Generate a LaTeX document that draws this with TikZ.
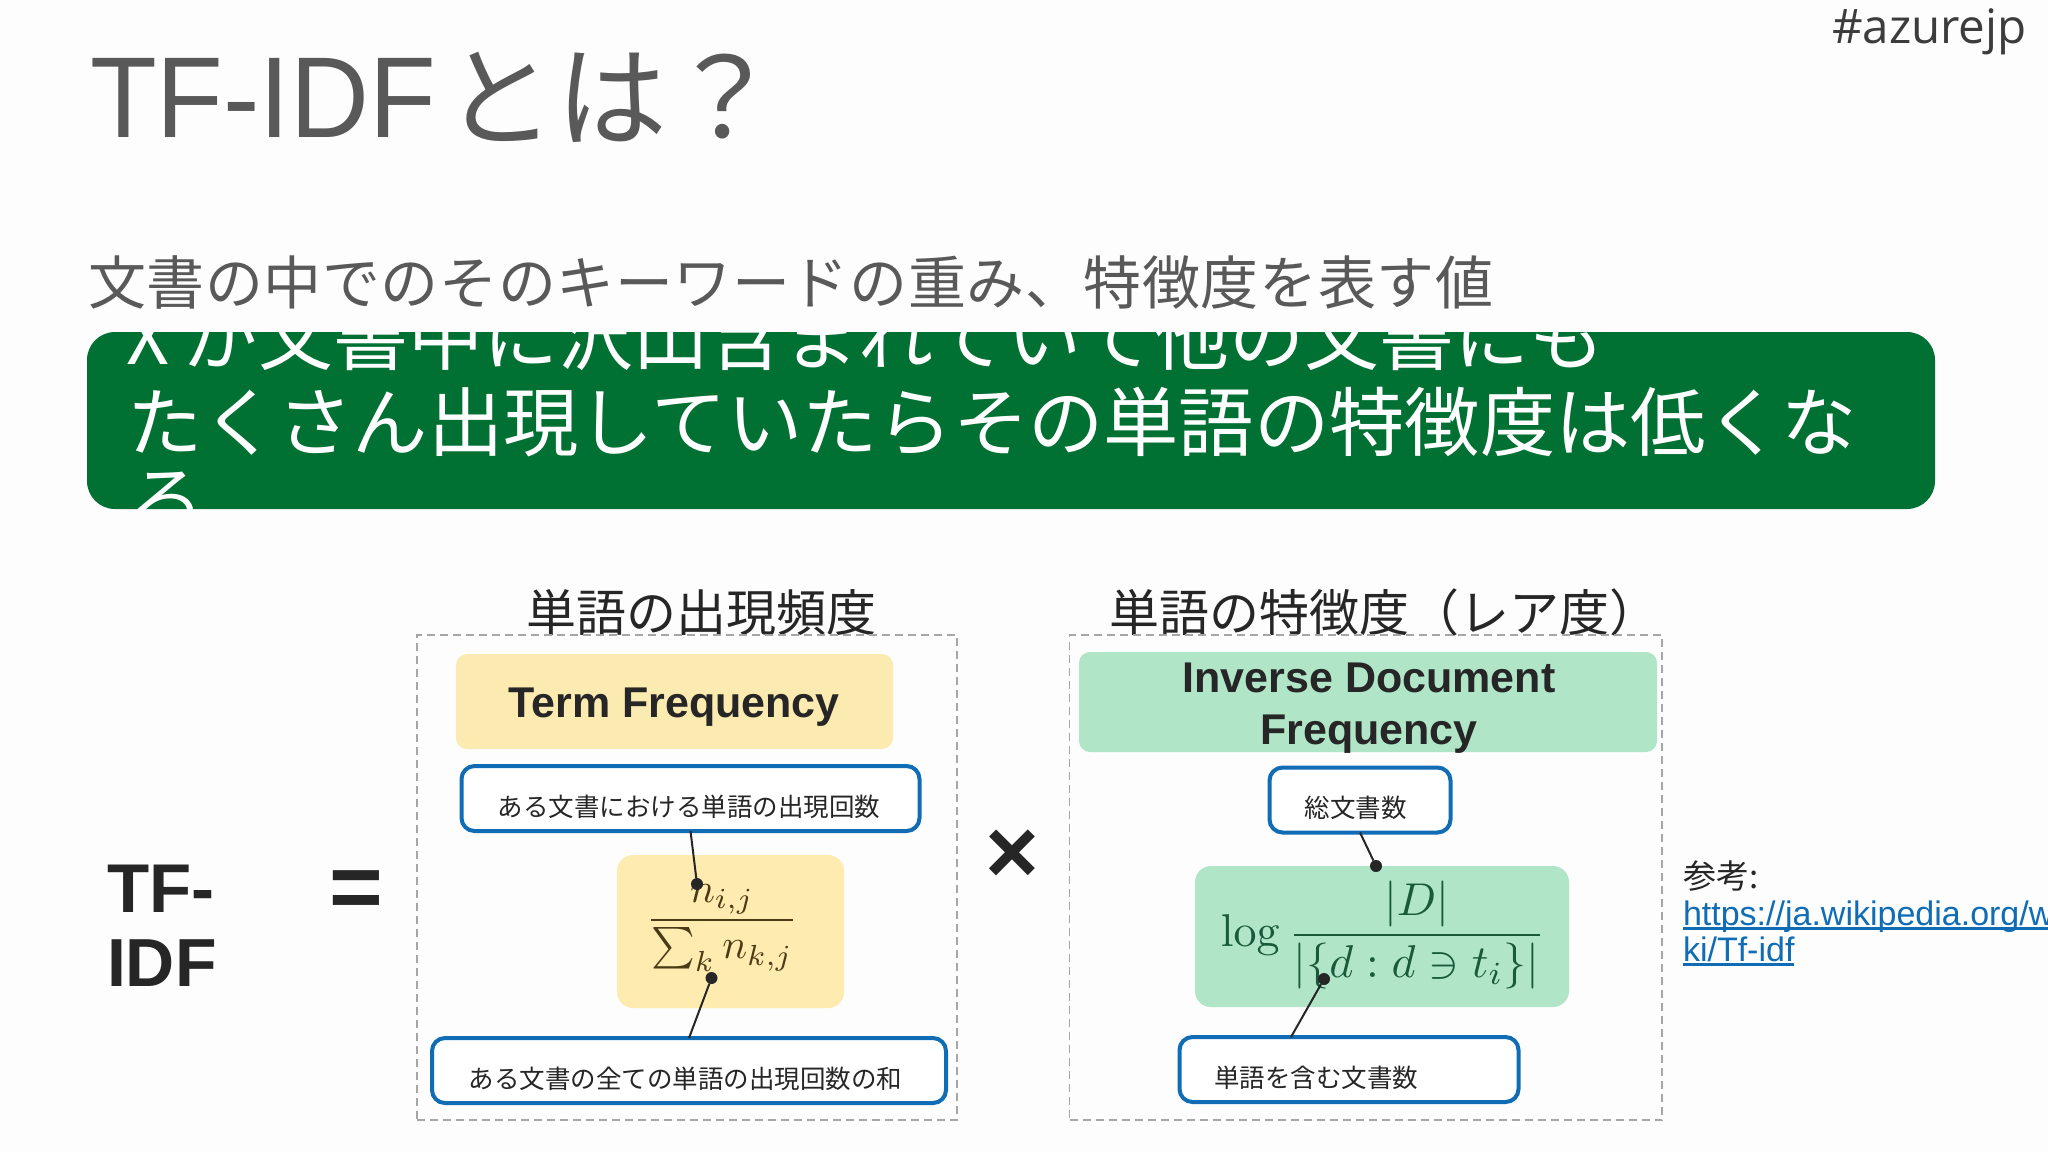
\documentclass[tikz,border=0pt]{standalone}
\usepackage[no-math]{fontspec}
\usepackage{amsmath}
\usetikzlibrary{calc}
\setmainfont{Liberation Sans}
\newfontfamily\jpf{Noto Sans CJK JP}
\newfontfamily\osf{Open Sans}
\definecolor{ttlgray}{HTML}{595959}
\definecolor{boxgreen}{HTML}{007033}
\definecolor{ink}{HTML}{262626}
\definecolor{hdryellow}{HTML}{FBEBB0}
\definecolor{fmlyellow}{HTML}{FDEBB0}
\definecolor{hdrgreen}{HTML}{B0E5C8}
\definecolor{callblue}{HTML}{0F6CB5}
\definecolor{dashgray}{HTML}{A6A6A6}
\definecolor{fmlbrown}{HTML}{4A3B14}
\definecolor{fmlgreen}{HTML}{1A5A3A}
\definecolor{pagebg}{HTML}{FDFDFE}
\newcommand{\jl}[2]{\jpf\addfontfeature{LetterSpace=#2}\fontsize{#1}{#1}\selectfont}
\newcommand{\sz}[1]{\fontsize{#1}{#1}\selectfont}
\newcommand{\lnk}[1]{\setbox0\hbox{#1}\rlap{\rule[-4.5pt]{\wd0}{2.5pt}}\box0}
\tikzset{
  txt/.style={inner sep=0pt,outer sep=0pt,anchor=base west},
  mid/.style={inner sep=0pt,outer sep=0pt,anchor=center},
  panel/.style={draw=dashgray,line width=1.3pt,dash pattern=on 8pt off 5pt,inner sep=0pt,outer sep=0pt},
  tile/.style={rounded corners=11pt,inner sep=0pt,outer sep=0pt},
  callout/.style={draw=callblue,fill=white,line width=4pt,rounded corners=13pt,inner sep=0pt,outer sep=0pt},
  leader/.style={draw=ink,line width=2pt},
  pin/.style={circle,fill=ink,minimum size=12pt,inner sep=0pt,outer sep=0pt},
}
\begin{document}
\begin{tikzpicture}[x=1pt,y=-1pt]
\useasboundingbox (0,0) rectangle (2048,1152);
\fill[pagebg] (0,0) rectangle (2048,1152);

% title
\node[txt,text=ttlgray,xscale=.95] (ttl) at (90,137) {\sz{115}TF-IDF};
\node[txt,text=ttlgray] (ttljp) at (444,138) {\jl{111}{1}とは？};
\node[txt,text=ink!90] (tag) at (1832,43) {\osf\sz{47.5}\#azurejp};
\node[txt,text=ttlgray] (sub) at (88,304) {\jl{58}{1}文書の中でのそのキーワードの重み、特徴度を表す値};

% banner
\node[fill=boxgreen,rounded corners=28pt,minimum width=1848pt,minimum height=177pt,inner sep=0pt,outer sep=0pt] (banner) at (1011,420.5) {};
\begin{scope}
\clip[rounded corners=28pt] (87,332) rectangle (1935,509);
\node[txt,text=white] (ln1) at (126,364) {\jl{75}{0}X\kern15pt が文書中に沢山含まれていて他の文書にも};
\node[txt,text=white] (ln2) at (127,450) {\jl{75.3}{0}たくさん出現していたらその単語の特徴度は低くな};
\node[txt,text=white] (ln3) at (129,528) {\jl{75}{0}る};
\end{scope}

% column titles
\begin{scope}
\clip (0,560) rectangle (2048,635);
\node[txt,text=ink] (lab1) at (526,631) {\jl{50}{0}単語の出現頻度};
\node[txt,text=ink] (lab2) at (1109,631) {\jl{50}{0}単語の特徴度（レア度）};
\end{scope}

% panels
\node[panel,minimum width=540pt,minimum height=485pt] (pa) at (687,877.5) {};
\node[panel,minimum width=592.5pt,minimum height=485pt] (pb) at (1365.75,877.5) {};

% headers
\node[tile,fill=hdryellow,minimum width=437pt,minimum height=95pt] (tfh) at (674.5,701.5) {};
\node[mid,text=ink] (tft) at (674,707) {\sz{43}\bfseries Term Frequency};
\node[tile,fill=hdrgreen,minimum width=578pt,minimum height=100pt] (idfh) at (1368,702) {};
\node[mid,text=ink] (idft1) at (1369,678) {\sz{43}\bfseries Inverse Document};
\node[mid,text=ink] (idft2) at (1369,734) {\sz{43}\bfseries Frequency};

% formula tiles
\node[tile,fill=fmlyellow,rounded corners=16pt,minimum width=227pt,minimum height=153pt] (tff) at (730.5,931.5) {};
\node[mid,text=fmlbrown] (tfm) at (722,928) {\scalebox{4.15}{$\displaystyle\frac{n_{i,j}}{\sum_k n_{k,j}}$}};
\node[tile,fill=hdrgreen,rounded corners=16pt,minimum width=374pt,minimum height=141pt] (idff) at (1382,936.5) {};
\node[mid,text=fmlgreen] (idfm) at (1383,935) {\scalebox{4.6}{$\displaystyle\log\frac{|D|}{|\{d:d\ni t_i\}|}$}};

% callouts
\node[callout,minimum width=458pt,minimum height=65pt] (c1) at (690.5,798.5) {};
\node[mid,text=ink] (c1t) at (689,807) {\jl{25.5}{0}ある文書における単語の出現回数};
\node[callout,minimum width=514pt,minimum height=65pt] (c2) at (689,1070.5) {};
\node[mid,text=ink] (c2t) at (685.5,1079) {\jl{25.5}{0}ある文書の全ての単語の出現回数の和};
\node[callout,minimum width=181pt,minimum height=65pt] (c3) at (1360,800) {};
\node[mid,text=ink] (c3t) at (1355.5,808) {\jl{25.5}{0}総文書数};
\node[callout,minimum width=339pt,minimum height=65pt] (c4) at (1349,1069.5) {};
\node[mid,text=ink] (c4t) at (1316,1078) {\jl{25.5}{0}単語を含む文書数};

% pins and leaders
\node[pin] (p1) at (697,884) {};
\node[pin] (p2) at (711.5,978) {};
\node[pin] (p3) at (1376,866) {};
\node[pin] (p4) at (1324,979) {};
\draw[leader] (c1.south) -- (p1);
\draw[leader] (c2.north) -- (p2);
\draw[leader] (c3.south) -- (p3);
\draw[leader] ($(c4.north)+(-58,0)$) -- (p4);

% equation
\node[txt,text=ink] (lhs1) at (107,912) {\sz{69}\bfseries TF-};
\node[txt,text=ink] (lhs2) at (107,986) {\sz{68}\bfseries IDF};
\node[mid,text=ink] (eq) at (356,895) {\sz{92}\bfseries =};
\node[mid,text=ink] (times) at (1012,857) {\sz{92}\bfseries ×};

% reference
\node[txt,text=ink] (ref) at (1683,888) {\jpf\sz{33}参考:};
\node[txt,text=callblue] (url1) at (1683,925) {\sz{34}\lnk{https://ja.wikipedia.org/wi}};
\node[txt,text=callblue] (url2) at (1683,961) {\sz{34}\lnk{ki/Tf-idf}};
\end{tikzpicture}
\end{document}
